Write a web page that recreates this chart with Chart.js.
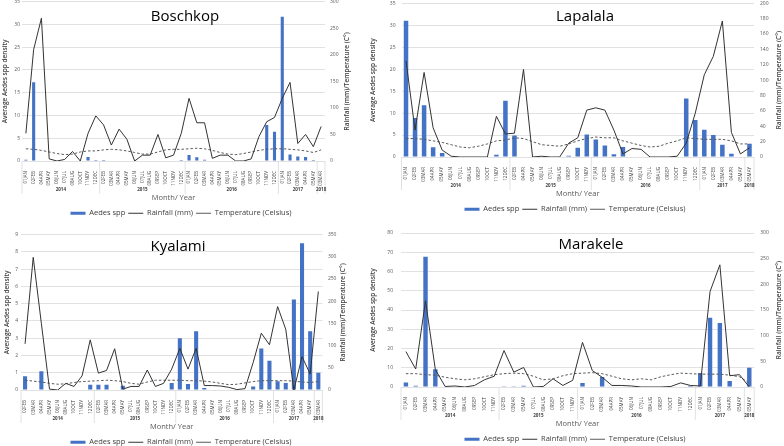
<!DOCTYPE html>
<html lang="en">
  <head>
    <meta charset="UTF-8" />
    <title>Aedes spp density, rainfall and temperature</title>
    <script src="https://cdn.jsdelivr.net/npm/chart.js"></script>
    <style>
      html, body { margin: 0; padding: 0; background: #fff; }
      #wrap { position: relative; width: 784px; height: 446px; overflow: hidden; }
      canvas { position: absolute; }
    </style>
  </head>
  <body>
    <div id="wrap">
      <canvas id="c1" width="362" height="223" style="left:0;top:0"></canvas>
      <canvas id="c2" width="418" height="223" style="left:366px;top:0"></canvas>
      <canvas id="c3" width="362" height="223" style="left:0;top:223px"></canvas>
      <canvas id="c4" width="418" height="223" style="left:366px;top:223px"></canvas>
    </div>
    <script>
      // ---- data ----
      const yearLabels = ["2014", "2015", "2016", "2017", "2018"];
      const seriesNames = ["Aedes spp", "Rainfall (mm)", "Temperature (Celsius)"];

      // Boschkop
      const boschkopMonths = ["01JAN","02FEB","04APR","05MAY","06JUN","07JUL","08AUG","10OCT","11NOV","12DEC",
        "02FEB","03MAR","04APR","05MAY","06JUN","07JUL","08AUG","09SEP","10OCT","11NOV","12DEC",
        "01JAN","02FEB","03MAR","04APR","05MAY","06JUN","07JUL","08AUG","09SEP","10OCT","11NOV","12DEC",
        "01JAN","02FEB","03MAR","04APR","05MAY","03MAR"];
      const boschkopYearCounts = [10, 11, 12, 5, 1];
      const boschkopAedes = [0.3,17.3,0,0,0,0,0,0,0.9,0.2,
        0.2,0,0,0.1,0,0,0,0,0,0,0.2,
        1.3,0.8,0.3,0,0,0,0,0,0,0.1,7.9,6.4,
        31.7,1.45,1.0,0.9,0.2,0.1];
      const boschkopRain = [52,210,269,4,0,3,18,0,52,85,
        68,30,60,41,0,11,11,50,6,11,52,
        118,72,72,5,11,11,0,0,4,46,74,82,
        118,148,33,50,27,65];
      const boschkopTemp = [23,22,20,17,14,12,13,17,19,19,
        21,22,21,19,16,13,13,17,21,22,22,
        23,24,23,20,16,13,12,14,17,20,22,23,
        23,22,21,19,16,21];

      // Lapalala
      const lapalalaMonths = ["01JAN","02FEB","03MAR","04APR","05MAY","06JUN","07JUL","08AUG","09SEP","10OCT","11NOV","12DEC",
        "02FEB","04APR","05MAY","06JUN","07JUL","08AUG","09SEP","10OCT","11NOV",
        "01JAN","02FEB","03MAR","04APR","05MAY","06JUN","07JUL","08AUG","09SEP","10OCT","11NOV","12DEC",
        "01JAN","02FEB","03MAR","04APR","05MAY","05MAY"];
      const lapalalaYearCounts = [12, 9, 12, 5, 1];
      const lapalalaAedes = [31.0,8.9,11.8,2.2,0.9,0,0,0,0.1,0,0.5,12.8,
        4.9,0,0,0,0,0,0.3,2.1,5.1,
        4.0,2.6,0.6,2.3,0,0,0,0,0,0,13.3,8.4,
        6.2,5.0,2.8,0.75,0,3.0];
      const lapalalaRain = [125,35,110,38,9,1,0,0,0,0,53,30,
        31,114,0,1,0,0,18,25,61,
        64,61,35,4,11,10,0,0,0,1,18,57,
        107,131,177,32,4,12];
      const lapalalaTemp = [24,24,23,21,19,16,13,12,14,17,21,22,
        25,24,20,16,15,14,17,21,24,
        26,25,25,21,18,15,13,14,18,21,25,24,
        23,23,23,21,17,17];

      // Kyalami
      const kyalamiMonths = ["02FEB","03MAR","04APR","05MAY","06JUN","08AUG","10OCT","11NOV","12DEC",
        "02FEB","03MAR","04APR","05MAY","07JUL","08AUG","09SEP","10OCT","11NOV","12DEC",
        "01JAN","02FEB","03MAR","04APR","05MAY","06JUN","07JUL","08AUG","09SEP","10OCT","11NOV","12DEC",
        "01JAN","02FEB","03MAR","04APR","05MAY","03MAR"];
      const kyalamiYearCounts = [9, 10, 12, 5, 1];
      const kyalamiAedes = [0.8,0,1.08,0,0,0,0,0,0.3,
        0.3,0.3,0,0.25,0,0,0,0,0,0.4,
        3.0,0.35,3.4,0.12,0,0,0,0,0,0.2,2.4,1.7,
        0.5,0.4,5.25,8.5,3.4,1.0];
      const kyalamiRain = [104,299,150,2,0,15,8,32,113,
        38,44,93,2,8,8,45,8,15,47,
        94,47,94,10,10,9,6,1,3,62,128,102,
        188,137,0,75,36,222];
      const kyalamiTemp = [22,20,18,15,13,14,17,19,20,
        21,22,21,19,15,13,18,22,22,22,
        22,21,21,20,18,15,12,13,16,19,21,21,
        21,21,20,18,17,19];

      // Marakele
      const marakeleMonths = ["01JAN","02FEB","03MAR","04APR","05MAY","06JUN","08AUG","09SEP","10OCT","11NOV",
        "02FEB","03MAR","05MAY","07JUL","08AUG","09SEP","10OCT","11NOV",
        "01JAN","02FEB","03MAR","04APR","05MAY","06JUN","07JUL","08AUG","09SEP","10OCT","11NOV","12DEC",
        "01JAN","02FEB","03MAR","04APR","05MAY","05MAY"];
      const marakeleYearCounts = [10, 8, 12, 5, 1];
      const marakeleAedes = [2.3,0.7,67.7,9.2,0,0,0,0,0,0,
        0.1,0.1,0.7,0,0,0,0,0,
        2.1,0,5.2,0,0,0,0,0,0,0,0,0.7,
        7.3,36.0,33.2,3.1,0,10.0];
      const marakeleRain = [69,35,168,34,1,2,0,3,14,21,
        71,29,38,0,1,16,3,13,
        87,32,19,3,3,2,0,0,0,1,8,3,
        2,186,238,22,24,0];
      const marakeleTemp = [26,26,24,23,19,16,14,16,20,24,
        26,27,26,21,14,16,22,26,
        27,28,26,21,16,14,16,14,20,24,27,26,
        25,25,25,23,20,8];

      // ---- drawing ----
      const FONT = "'Open Sans', 'DejaVu Sans', sans-serif";
      Chart.defaults.font.family = FONT;
      Chart.defaults.color = "#595959";

      // panel title, right axis title, year row under the month ticks
      const panelDecor = {
        id: "panelDecor",
        afterDraw(chart, args, opts) {
          const { ctx, chartArea, scales } = chart;
          const x = scales.x;
          ctx.save();
          ctx.fillStyle = "#000";
          ctx.textAlign = "center";
          ctx.textBaseline = "middle";
          ctx.font = "15px " + FONT;
          ctx.fillText(opts.title, opts.titleX, opts.titleY);

          // right-hand axis title, reading bottom to top
          ctx.save();
          ctx.translate(chartArea.right + opts.rightTitleOffset, (chartArea.top + chartArea.bottom) / 2);
          ctx.rotate(-Math.PI / 2);
          ctx.fillStyle = "#404040";
          ctx.font = "600 6.5px " + FONT;
          ctx.fillText("Rainfall (mm)/Temperature (C°)", 0, 0);
          ctx.restore();

          // years
          const half = (x.getPixelForValue(1) - x.getPixelForValue(0)) / 2;
          ctx.strokeStyle = "#d9d9d9";
          ctx.lineWidth = 0.8;
          ctx.fillStyle = "#404040";
          ctx.font = "bold 4.5px " + FONT;
          let start = 0;
          opts.yearCounts.forEach((n, i) => {
            const end = start + n - 1;
            const xl = x.getPixelForValue(start) - half;
            const xr = x.getPixelForValue(end) + half;
            ctx.beginPath();
            ctx.moveTo(xl, x.top);
            ctx.lineTo(xl, x.top + 33);
            if (i === opts.yearCounts.length - 1) {
              ctx.moveTo(xr, x.top);
              ctx.lineTo(xr, x.top + 33);
            }
            ctx.stroke();
            ctx.fillText(yearLabels[i], (x.getPixelForValue(start) + x.getPixelForValue(end)) / 2, x.top + 28.5);
            start = end + 1;
          });
          ctx.restore();
        }
      };

      function makePanel(canvasId, p) {
        const L = p.layout;
        new Chart(document.getElementById(canvasId), {
          type: "bar",
          data: {
            labels: p.months,
            datasets: [
              {
                label: seriesNames[0],
                data: p.aedes,
                yAxisID: "y",
                backgroundColor: "#4472c4",
                borderWidth: 0,
                barPercentage: L.bar,
                categoryPercentage: 1,
                order: 3
              },
              {
                label: seriesNames[1],
                type: "line",
                data: p.rain,
                yAxisID: "y1",
                borderColor: "#333333",
                borderWidth: 1,
                pointRadius: 0,
                tension: 0,
                order: 1
              },
              {
                label: seriesNames[2],
                type: "line",
                data: p.temp,
                yAxisID: "y1",
                borderColor: "#595959",
                borderWidth: 1,
                borderDash: [2.5, 2],
                pointRadius: 0,
                tension: 0,
                order: 2
              }
            ]
          },
          options: {
            responsive: false,
            animation: false,
            layout: { padding: { left: 0, right: 0, top: L.padT, bottom: L.padB } },
            scales: {
              x: {
                grid: { display: false },
                border: { display: false },
                ticks: {
                  autoSkip: false,
                  maxRotation: 90,
                  minRotation: 90,
                  padding: 2,
                  font: { size: 4.5 },
                  color: "#404040"
                },
                title: {
                  display: true,
                  text: "Month/ Year",
                  font: { size: 7.5 },
                  color: "#595959",
                  padding: { top: 0, bottom: 4 }
                },
                afterFit(scale) {
                  scale.height = 45.5;
                  scale.paddingLeft = 0;
                  scale.paddingRight = 0;
                }
              },
              y: {
                position: "left",
                min: 0,
                max: p.yMax,
                grid: { color: "#d9d9d9", lineWidth: 0.8, drawTicks: false },
                border: { display: false },
                ticks: { stepSize: p.yStep, padding: L.yTickPad, font: { size: 5 }, color: "#595959" },
                title: {
                  display: true,
                  text: "Average Aedes spp density",
                  font: { size: 6.5, weight: "600" },
                  color: "#404040",
                  padding: { top: L.yTitlePad, bottom: 0 }
                },
                afterFit(scale) {
                  scale.width = L.yW;
                  scale.paddingTop = 0;
                  scale.paddingBottom = 0;
                }
              },
              y1: {
                position: "right",
                min: 0,
                max: p.y1Max,
                grid: { display: false, drawTicks: false },
                border: { display: false },
                ticks: { stepSize: p.y1Step, padding: L.y1TickPad, font: { size: 5 }, color: "#595959" },
                afterFit(scale) {
                  scale.width = L.y1W;
                  scale.paddingTop = 0;
                  scale.paddingBottom = 0;
                }
              }
            },
            plugins: {
              tooltip: { enabled: false },
              legend: {
                position: "bottom",
                labels: {
                  usePointStyle: true,
                  pointStyleWidth: 15,
                  boxHeight: 3,
                  padding: 3,
                  font: { size: 7.5 },
                  color: "#404040",
                  generateLabels(chart) {
                    const items = Chart.defaults.plugins.legend.labels.generateLabels(chart);
                    items.sort((a, b) => a.datasetIndex - b.datasetIndex);
                    items.forEach((it) => { it.pointStyle = it.datasetIndex === 0 ? "rect" : "line"; });
                    return items;
                  }
                }
              },
              panelDecor: {
                title: p.name,
                titleX: L.titleX,
                titleY: L.titleY,
                rightTitleOffset: L.rTitleOff,
                yearCounts: p.yearCounts
              }
            }
          },
          plugins: [panelDecor]
        });
      }

      makePanel("c1", {
        name: "Boschkop", months: boschkopMonths, yearCounts: boschkopYearCounts,
        aedes: boschkopAedes, rain: boschkopRain, temp: boschkopTemp,
        yMax: 35, yStep: 5, y1Max: 300, y1Step: 50,
        layout: { padT: 1.7, padB: -4, yW: 22, y1W: 37, yTickPad: 2, y1TickPad: 5, yTitlePad: 1, rTitleOff: 22, titleX: 185, titleY: 17, bar: 0.4 }
      });
      makePanel("c2", {
        name: "Lapalala", months: lapalalaMonths, yearCounts: lapalalaYearCounts,
        aedes: lapalalaAedes, rain: lapalalaRain, temp: lapalalaTemp,
        yMax: 35, yStep: 5, y1Max: 200, y1Step: 20,
        layout: { padT: 3.3, padB: 0, yW: 35.5, y1W: 30, yTickPad: 6, y1TickPad: 6, yTitlePad: 3, rTitleOff: 25, titleX: 219, titleY: 17, bar: 0.5 }
      });
      makePanel("c3", {
        name: "Kyalami", months: kyalamiMonths, yearCounts: kyalamiYearCounts,
        aedes: kyalamiAedes, rain: kyalamiRain, temp: kyalamiTemp,
        yMax: 9, yStep: 1, y1Max: 350, y1Step: 50,
        layout: { padT: 11.7, padB: -10, yW: 21, y1W: 39.6, yTickPad: 3, y1TickPad: 5.5, yTitlePad: 3, rTitleOff: 20.6, titleX: 178, titleY: 24, bar: 0.5 }
      });
      makePanel("c4", {
        name: "Marakele", months: marakeleMonths, yearCounts: marakeleYearCounts,
        aedes: marakeleAedes, rain: marakeleRain, temp: marakeleTemp,
        yMax: 80, yStep: 10, y1Max: 300, y1Step: 50,
        layout: { padT: 10, padB: -7, yW: 35, y1W: 29.8, yTickPad: 8, y1TickPad: 6, yTitlePad: 3, rTitleOff: 25, titleX: 225, titleY: 22, bar: 0.45 }
      });
    </script>
  </body>
</html>
